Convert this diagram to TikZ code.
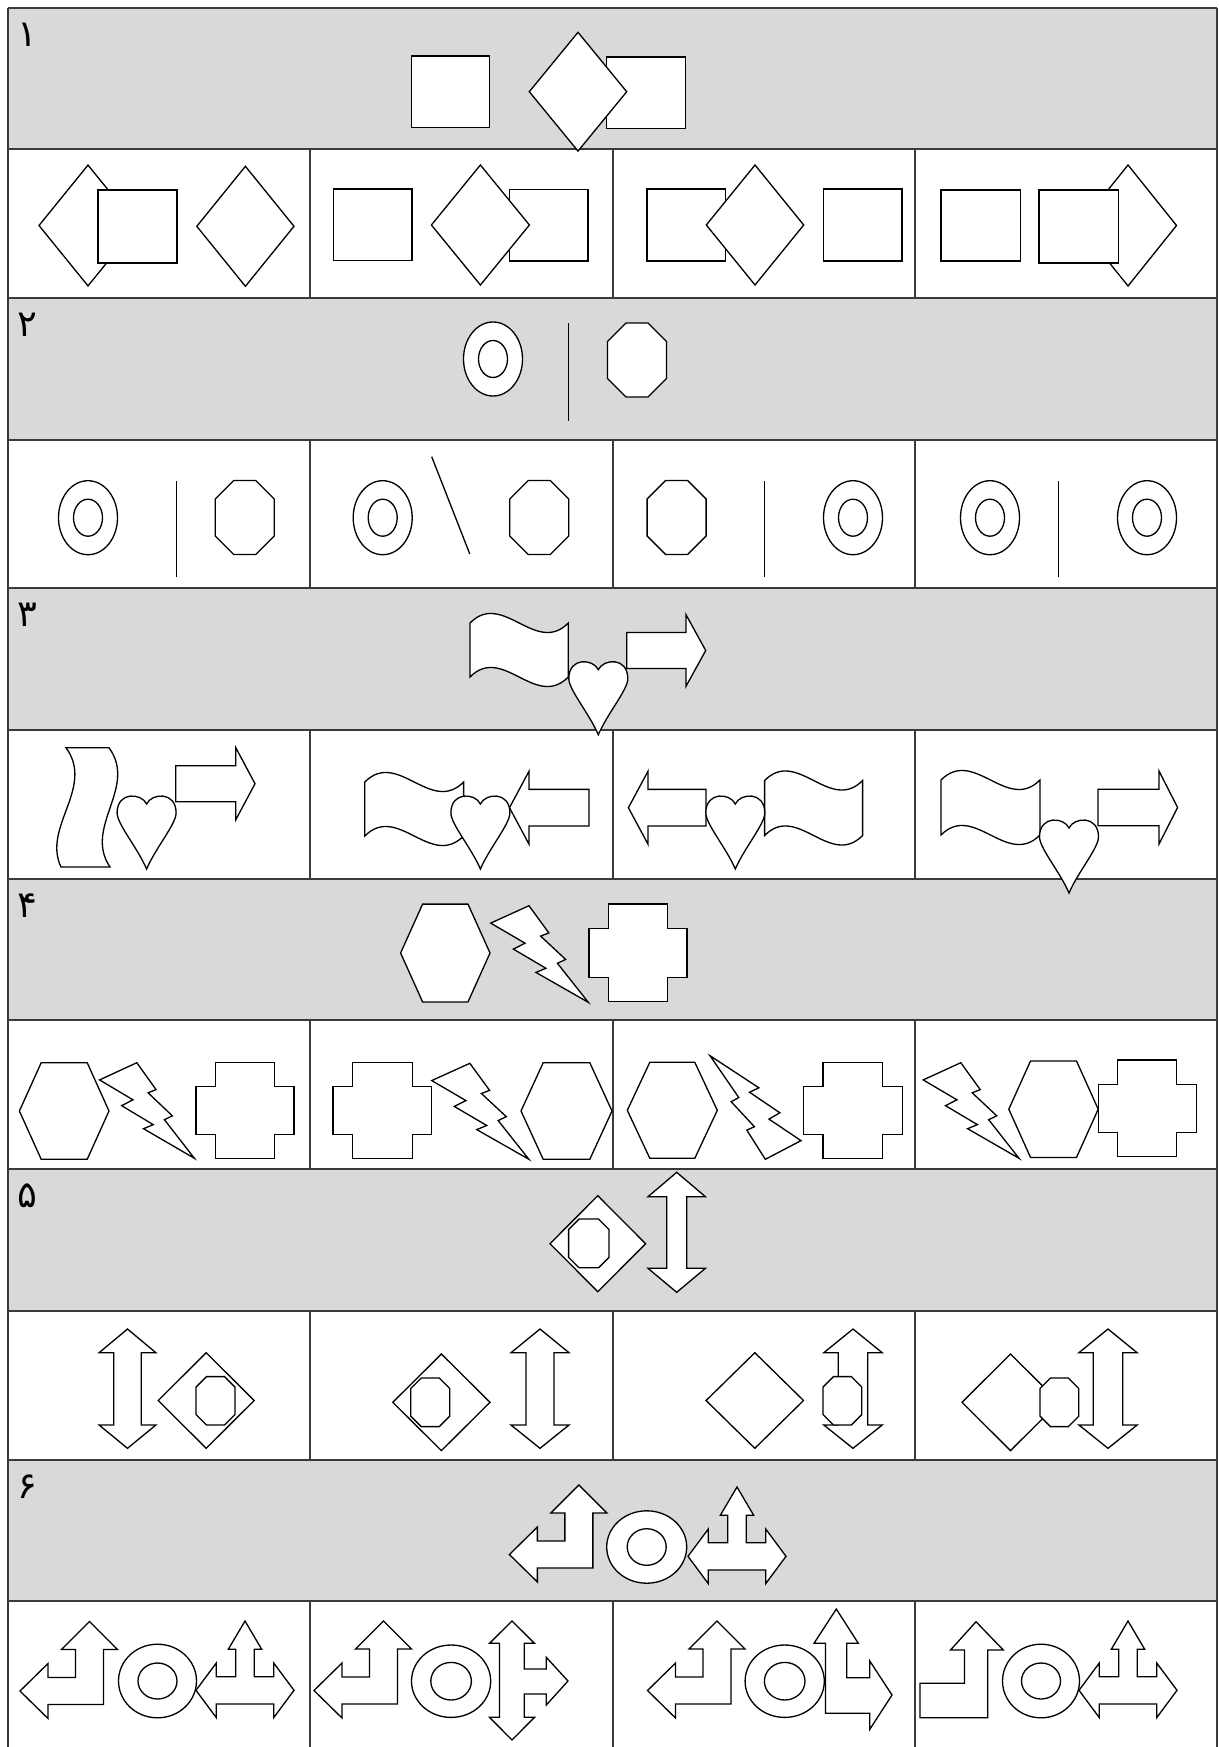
\documentclass[tikz,border=0pt]{standalone}
\usepackage{fontspec}
\usepackage{tikz}
\newfontfamily\persianfont[Script=Arabic]{DejaVu Sans}
\definecolor{bandgray}{HTML}{D9D9D9}
\definecolor{rulegray}{HTML}{3A3A3A}

\tikzset{
  fig/.style={draw=black, fill=white, line width=0.75pt, line join=miter},
  stroke/.style={draw=black, line width=0.75pt},
  band/.style={fill=bandgray},
  rowrule/.style={draw=rulegray, line width=1pt},
  colrule/.style={draw=rulegray, line width=0.6pt},
  qnum/.style={font=\persianfont\fontsize{21}{21}\selectfont, inner sep=0pt}
}

% shapes, all in pixel units (y grows downwards)
\newcommand{\figrhomb}[4]{\draw[fig] (#1-#3,#2) -- (#1,#2-#4) -- (#1+#3,#2) -- (#1,#2+#4) -- cycle;}
\newcommand{\figocta}[5]{\draw[fig] (#1-#3+#5,#2-#4) -- (#1+#3-#5,#2-#4) -- (#1+#3,#2-#4+#5) -- (#1+#3,#2+#4-#5) -- (#1+#3-#5,#2+#4) -- (#1-#3+#5,#2+#4) -- (#1-#3,#2+#4-#5) -- (#1-#3,#2-#4+#5) -- cycle;}
\newcommand{\figring}[6]{\draw[fig] (#1,#2) ellipse [x radius=#3, y radius=#4];
  \draw[fig] (#1,#2) ellipse [x radius=#5, y radius=#6];}
\newcommand{\fighex}[5]{\draw[fig] (#1-#5,#2-#4) -- (#1+#5,#2-#4) -- (#1+#3,#2) -- (#1+#5,#2+#4) -- (#1-#5,#2+#4) -- (#1-#3,#2) -- cycle;}
\newcommand{\figcross}[4]{\draw[fig] (#1+19.5,#2) -- (#3-19.5,#2) -- (#3-19.5,#2+24.5) -- (#3,#2+24.5) -- (#3,#4-24.5) -- (#3-19.5,#4-24.5) -- (#3-19.5,#4) -- (#1+19.5,#4) -- (#1+19.5,#4-24.5) -- (#1,#4-24.5) -- (#1,#2+24.5) -- (#1+19.5,#2+24.5) -- cycle;}
\newcommand{\figbolt}[4]{\draw[fig, shift={(#1,#2)}, xscale=#3/216, yscale=#4/216]
  (84.72,0) -- (128.60,60.80) -- (110.50,67.97) -- (165.77,120.07) -- (147.67,128.77) -- (216,216)
  -- (100.12,149.15) -- (122.22,139.87) -- (50.22,97.05) -- (76.02,83.82) -- (0,38.90) -- cycle;}
\newcommand{\figwave}[5]{\draw[fig] (#1,#2) .. controls ({#1+#3/3},{#2-#5}) and ({#1+2*#3/3},{#2+#5}) .. ({#1+#3},#2)
  -- ({#1+#3},{#2+#4}) .. controls ({#1+2*#3/3},{#2+#4+#5}) and ({#1+#3/3},{#2+#4-#5}) .. (#1,{#2+#4}) -- cycle;}
\newcommand{\figheart}[2]{\draw[fig, shift={(#1,#2)}] (0,8) .. controls (5,-3) and (29.5,-5) .. (29.5,17)
  .. controls (29.5,28) and (9,52) .. (0,73) .. controls (-9,52) and (-29.5,28) .. (-29.5,17)
  .. controls (-29.5,-5) and (-5,-3) .. (0,8) -- cycle;}
\newcommand{\figharrow}[6]{\draw[fig] (#1,#4-#5) -- (#2,#4-#5) -- (#2,#4-#6) -- (#3,#4) -- (#2,#4+#6) -- (#2,#4+#5) -- (#1,#4+#5) -- cycle;}
\newcommand{\figudarrow}[7]{\draw[fig] (#1,#2) -- (#1+#7,#3) -- (#1+#6,#3) -- (#1+#6,#4) -- (#1+#7,#4) -- (#1,#5) -- (#1-#7,#4) -- (#1-#6,#4) -- (#1-#6,#3) -- (#1-#7,#3) -- cycle;}
\newcommand{\figleftup}[2]{\draw[fig, shift={(#1,#2)}] (69.5,0) -- (97.5,28) -- (83.5,28) -- (83.5,83) -- (28,83) -- (28,97) -- (0,69.5) -- (28,42) -- (28,56) -- (55.5,56) -- (55.5,28) -- (41.5,28) -- cycle;}
\newcommand{\figthreeway}[2]{\draw[fig, shift={(#1,#2)}] (49,0) -- (65.7,28.3) -- (58.3,28.3) -- (58.3,55.7) -- (77.8,55.7) -- (77.8,42.1) -- (98,69.3) -- (77.8,96.5) -- (77.8,83) -- (20.2,83) -- (20.2,96.5) -- (0,69.3) -- (20.2,42.1) -- (20.2,55.7) -- (39.7,55.7) -- (39.7,28.3) -- (32.3,28.3) -- cycle;}

\begin{document}
\begin{tikzpicture}[x=0.02cm, y=-0.02cm]
    \useasboundingbox (0,0) rectangle (1219,1747);
    \fill[white] (0,0) rectangle (1219,1747);

    % grey question bands, option cells and numbers
    \foreach \gt/\ot/\en/\d [count=\i] in {8/149/298/۱, 298/440/588/۲, 588/730/879/۳, 879/1020/1169/۴, 1169/1311/1460/۵, 1460/1601/1747/۶} {
        \fill[band] (8,\gt) rectangle (1217,\ot);
        \draw[rowrule] (8,\gt) -- (1217,\gt);
        \draw[rowrule] (8,\ot) -- (1217,\ot);
        \foreach \cx in {310,613,915}
            \draw[colrule] (\cx,\ot) -- (\cx,\en);
        \node[qnum] (num\i) at (27,\gt+27) {\d};
    }
    \draw[rowrule] (8,8) -- (8,1747) (1217,8) -- (1217,1747);

    % Row 1
    \draw[fig] (411.7,56) rectangle (489.3,127.7);
    \draw[fig] (606.7,57) rectangle (685.7,128.3);
    \figrhomb{578}{91.7}{48.7}{59.4}
    \figrhomb{88}{225.5}{49}{60.4}
    \draw[fig] (98,190) rectangle (177,263);
    \figrhomb{245.4}{226.3}{48.6}{60}
    \draw[fig] (333.6,189) rectangle (412,260.7);
    \draw[fig] (509.7,189.3) rectangle (588,261);
    \figrhomb{480.4}{225}{49}{60}
    \draw[fig] (647,189) rectangle (725.4,261);
    \figrhomb{755}{225}{48.7}{60}
    \draw[fig] (823.5,189) rectangle (902,261);
    \draw[fig] (941,190) rectangle (1020.5,261);
    \figrhomb{1128}{225.5}{48.5}{60.5}
    \draw[fig] (1039,190) rectangle (1118.5,263);

    % Row 2
    \figring{493}{359}{29.5}{37}{14.5}{18.5}
    \draw[stroke] (568.5,323) -- (568.5,421);
    \figocta{637}{360}{29.5}{37}{18.5}
    \figring{88}{517.7}{29.5}{37}{14.5}{18.5}
    \draw[stroke] (176.5,481) -- (176.5,577);
    \figocta{244.7}{517.5}{29.5}{37}{18.5}
    \figring{382.7}{517.7}{29.5}{37}{14.5}{18.5}
    \draw[stroke] (431.7,456.7) -- (469.8,554);
    \figocta{539.3}{517.5}{29.5}{37}{18.5}
    \figocta{676.6}{517.5}{29.5}{37}{18.5}
    \draw[stroke] (764.6,481) -- (764.6,577);
    \figring{853}{517.7}{29.5}{37}{14.5}{18.5}
    \figring{990}{517.7}{29.5}{37}{14.5}{18.5}
    \draw[stroke] (1058.6,481) -- (1058.6,577);
    \figring{1147}{517.7}{29.5}{37}{14.5}{18.5}

    % Row 3
    \figwave{470}{623}{98.3}{54}{33}
    \figharrow{626.7}{686}{705.7}{650.5}{18}{35.8}
    \figheart{598.3}{661.7}
    \draw[fig] (66,747.7) -- (109,747.7) .. controls (138,787.5) and (83,827) .. (110,867)
        -- (61,867) .. controls (42,827) and (95,787.5) .. (66,747.7) -- cycle;
    \figheart{146.6}{796}
    \figharrow{175.8}{235.7}{255}{783.7}{18}{36.2}
    \figwave{364.8}{782}{98.8}{54}{33}
    \figharrow{589}{529}{509.5}{807.7}{18.3}{36.5}
    \figheart{480.4}{796}
    \figharrow{706}{648}{628.4}{807.7}{18.3}{36.5}
    \figwave{764.6}{780.5}{98}{55}{33}
    \figheart{735.3}{796}
    \figwave{941}{780}{99}{55}{33}
    \figharrow{1098}{1159}{1177.6}{807.5}{18.3}{36.5}
    \figheart{1069}{820}

    % Row 4
    \fighex{445.3}{953}{44.7}{48.9}{22.7}
    \figbolt{490.7}{905.7}{97.6}{96.6}
    \figcross{589}{904}{687}{1001.7}
    \fighex{64.2}{1111}{44.8}{48.3}{23}
    \figbolt{99.6}{1062.7}{94.8}{95.6}
    \figcross{196}{1062.3}{294}{1158.7}
    \figcross{333}{1062.3}{431.7}{1158.7}
    \figbolt{431.7}{1063.3}{97.2}{96}
    \fighex{566.5}{1111}{45.5}{48.3}{23.3}
    \fighex{672.3}{1110.3}{45}{48}{22.5}
    \figbolt{801}{1159.3}{-91}{-103.6}
    \figcross{803.5}{1062.3}{902.3}{1158.7}
    \figbolt{923.2}{1062.7}{95.8}{95.6}
    \fighex{1053.5}{1109.2}{44.7}{48.2}{23}
    \figcross{1098.2}{1060}{1196.2}{1156.7}

    % Row 5
    \figrhomb{597.8}{1243.7}{47.8}{48}
    \figocta{588.8}{1243.4}{20.2}{24.4}{10.5}
    \figudarrow{676.7}{1172.3}{1196.7}{1268.3}{1292.3}{10}{28.7}
    \figudarrow{127.5}{1329}{1352.7}{1425}{1448.3}{13.7}{28.4}
    \figrhomb{206.2}{1400.5}{48}{47.8}
    \figocta{215.5}{1400.8}{19.5}{24.2}{10.5}
    \figrhomb{441.4}{1402.3}{48.6}{48.3}
    \figocta{430.2}{1402.3}{19.5}{24.3}{10.5}
    \figudarrow{540}{1329}{1352.7}{1425}{1448.3}{14}{29}
    \figrhomb{754.8}{1400.5}{48.7}{47.8}
    \figudarrow{853}{1329}{1352.7}{1425}{1448.3}{14.7}{29.2}
    \figocta{842.4}{1400.8}{19.4}{24.2}{10.5}
    \figrhomb{1010.5}{1402.3}{48.5}{48.3}
    \figudarrow{1108}{1329}{1352.7}{1425}{1448.3}{14.7}{29.1}
    \figocta{1059.4}{1402.3}{19.4}{24.3}{10.5}

    % Row 6
    \figleftup{509.4}{1485}
    \figring{646.7}{1547}{40}{36.2}{19.5}{18.3}
    \figthreeway{688}{1487}
    \figleftup{20}{1621.5}
    \figring{157.5}{1681}{39}{36.8}{19.5}{18}
    \figthreeway{196}{1621}
    \figleftup{314}{1621}
    \figring{451.1}{1681.2}{39.6}{36.2}{20.3}{18.8}
    \draw[fig] (512,1621) -- (534.5,1643.3) -- (524.3,1643.3) -- (524.3,1669) -- (546.3,1669) -- (546.3,1657.3)
        -- (568,1681) -- (546.3,1705) -- (546.3,1694) -- (524.3,1694) -- (524.3,1717.3) -- (534.5,1717.3)
        -- (512,1740) -- (489.5,1717.3) -- (499.5,1717.3) -- (499.5,1643.3) -- (489.5,1643.3) -- cycle;
    \figleftup{647.5}{1621}
    \figring{784.7}{1681.2}{39.6}{36.2}{20.3}{18.8}
    \draw[fig] (836.3,1609) -- (858.3,1643.3) -- (846.7,1643.3) -- (846.7,1677.7) -- (869.8,1677.7) -- (869.8,1661)
        -- (892,1695) -- (869.8,1729.3) -- (869.8,1713.3) -- (825.4,1713.3) -- (825.4,1643.3) -- (814,1643.3) -- cycle;
    \draw[fig] (976,1621.7) -- (1003.3,1650) -- (987.8,1650) -- (987.8,1717.7) -- (920,1717.7) -- (920,1683.3)
        -- (964.5,1683.3) -- (964.5,1650) -- (950.5,1650) -- cycle;
    \figring{1041}{1681}{38.5}{36.8}{19.5}{18}
    \figthreeway{1079}{1621}
\end{tikzpicture}
\end{document}
